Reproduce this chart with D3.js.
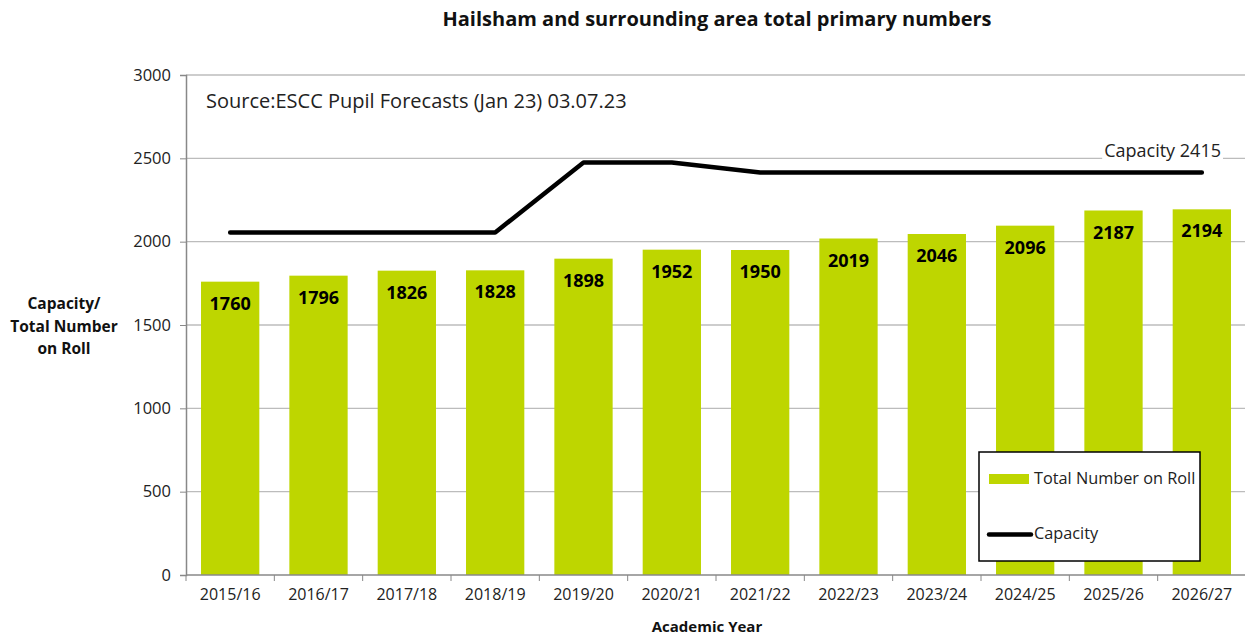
<!DOCTYPE html>
<html>
<head>
<meta charset="utf-8">
<script src="https://cdn.jsdelivr.net/npm/d3@7"></script>
<style>
  body { margin: 0; background: #fff; }
</style>
</head>
<body>
<svg></svg>
<script>
const years = ['2015/16', '2016/17', '2017/18', '2018/19', '2019/20', '2020/21',
               '2021/22', '2022/23', '2023/24', '2024/25', '2025/26', '2026/27'];
const totalOnRoll = [1760, 1796, 1826, 1828, 1898, 1952, 1950, 2019, 2046, 2096, 2187, 2194];
const capacity = [2055, 2055, 2055, 2055, 2475, 2475, 2415, 2415, 2415, 2415, 2415, 2415];
const yTicks = [0, 500, 1000, 1500, 2000, 2500, 3000];

const WIDTH = 1245;
const HEIGHT = 638;
const PLOT_LEFT = 186;
const PLOT_RIGHT = 1246;
const PLOT_TOP = 75;
const PLOT_BOTTOM = 575;

const BAR_COLOR = '#bed600';
const FONT = '"Open Sans", sans-serif';

const svg = d3.select('svg')
  .attr('width', WIDTH)
  .attr('height', HEIGHT)
  .attr('font-family', FONT);

const xScale = d3.scaleBand()
  .domain(years)
  .range([PLOT_LEFT, PLOT_RIGHT])
  .paddingInner(0.34)
  .paddingOuter(0.17);

const yScale = d3.scaleLinear()
  .domain([0, 3000])
  .range([PLOT_BOTTOM, PLOT_TOP]);

const step = xScale.step();
const bw = xScale.bandwidth();
const xCenter = d => xScale(d) + bw / 2;

// gridlines
svg.append('g')
  .selectAll('line')
  .data(yTicks.filter(t => t > 0))
  .enter()
  .append('line')
  .attr('x1', PLOT_LEFT)
  .attr('x2', PLOT_RIGHT)
  .attr('y1', d => yScale(d))
  .attr('y2', d => yScale(d))
  .attr('stroke', '#bcbcbc')
  .attr('stroke-width', 1.3);

// title
svg.append('text')
  .text('Hailsham and surrounding area total primary numbers')
  .attr('x', 717)
  .attr('y', 26)
  .attr('text-anchor', 'middle')
  .attr('font-size', '20px')
  .attr('font-weight', 'bold')
  .attr('fill', '#111');

// source note
svg.append('text')
  .text('Source:ESCC Pupil Forecasts (Jan 23) 03.07.23')
  .attr('x', 206)
  .attr('y', 108)
  .attr('font-size', '20px')
  .attr('fill', '#222');

// bars
svg.append('g')
  .selectAll('rect')
  .data(years)
  .enter()
  .append('rect')
  .attr('x', d => xScale(d))
  .attr('y', (d, i) => yScale(totalOnRoll[i]))
  .attr('width', bw)
  .attr('height', (d, i) => PLOT_BOTTOM - yScale(totalOnRoll[i]))
  .attr('fill', BAR_COLOR);

// bar labels
svg.append('g')
  .selectAll('text')
  .data(years)
  .enter()
  .append('text')
  .text((d, i) => totalOnRoll[i])
  .attr('x', d => xCenter(d))
  .attr('y', (d, i) => yScale(totalOnRoll[i]) + 28)
  .attr('text-anchor', 'middle')
  .attr('font-size', '18px')
  .attr('font-weight', 'bold')
  .attr('fill', '#000');

// capacity line
const line = d3.line()
  .x((d, i) => xCenter(years[i]))
  .y(d => yScale(d));

svg.append('path')
  .datum(capacity)
  .attr('d', line)
  .attr('fill', 'none')
  .attr('stroke', '#000')
  .attr('stroke-width', 4.5)
  .attr('stroke-linecap', 'round')
  .attr('stroke-linejoin', 'round');

// capacity annotation
const capLabel = svg.append('g');
const capText = capLabel.append('text')
  .text('Capacity 2415')
  .attr('x', 1221)
  .attr('y', yScale(capacity[capacity.length - 1]) - 16)
  .attr('text-anchor', 'end')
  .attr('font-size', '18px')
  .attr('fill', '#222');
const cb = capText.node().getBBox();
capLabel.insert('rect', 'text')
  .attr('x', cb.x - 2)
  .attr('y', cb.y)
  .attr('width', cb.width + 4)
  .attr('height', cb.height)
  .attr('fill', '#fff');

// axes
const yAxis = d3.axisLeft(yScale)
  .tickValues(yTicks)
  .tickFormat(d3.format('d'))
  .tickSize(6)
  .tickPadding(9);

svg.append('g')
  .attr('id', 'y-axis')
  .attr('transform', `translate(${PLOT_LEFT}, 0)`)
  .call(yAxis)
  .call(g => g.select('.domain').attr('stroke', '#888').attr('stroke-width', 1.5))
  .call(g => g.selectAll('.tick line').attr('stroke', '#888'))
  .call(g => g.selectAll('.tick text')
    .attr('font-family', FONT)
    .attr('font-size', '16.5px')
    .attr('fill', '#222'));

const xAxis = d3.axisBottom(xScale)
  .tickSize(0)
  .tickPadding(14);

svg.append('g')
  .attr('id', 'x-axis')
  .attr('transform', `translate(0, ${PLOT_BOTTOM})`)
  .call(xAxis)
  .call(g => g.select('.domain').remove())
  .call(g => g.selectAll('.tick text')
    .attr('font-family', FONT)
    .attr('font-size', '16px')
    .attr('fill', '#222'));

svg.append('line')
  .attr('x1', PLOT_LEFT)
  .attr('x2', PLOT_RIGHT)
  .attr('y1', PLOT_BOTTOM)
  .attr('y2', PLOT_BOTTOM)
  .attr('stroke', '#888')
  .attr('stroke-width', 1.5);

// x tick marks at category boundaries
svg.append('g')
  .selectAll('line')
  .data(years)
  .enter()
  .append('line')
  .attr('x1', d => xScale(d) - step * xScale.paddingInner() / 2)
  .attr('x2', d => xScale(d) - step * xScale.paddingInner() / 2)
  .attr('y1', PLOT_BOTTOM)
  .attr('y2', PLOT_BOTTOM + 6)
  .attr('stroke', '#888');

// axis titles
svg.append('text')
  .text('Academic Year')
  .attr('x', 707)
  .attr('y', 632)
  .attr('text-anchor', 'middle')
  .attr('font-size', '15px')
  .attr('font-weight', 'bold')
  .attr('fill', '#111');

const yTitle = svg.append('text')
  .attr('text-anchor', 'middle')
  .attr('font-size', '15.5px')
  .attr('font-weight', 'bold')
  .attr('fill', '#111');
['Capacity/', 'Total Number', 'on Roll'].forEach((t, i) => {
  yTitle.append('tspan')
    .text(t)
    .attr('x', 64)
    .attr('y', 309 + i * 22.5);
});

// legend
const legend = svg.append('g');
legend.append('rect')
  .attr('x', 979)
  .attr('y', 452)
  .attr('width', 221)
  .attr('height', 109)
  .attr('fill', '#fff')
  .attr('stroke', '#000')
  .attr('stroke-width', 1.5);
legend.append('rect')
  .attr('x', 989)
  .attr('y', 474)
  .attr('width', 40)
  .attr('height', 10)
  .attr('fill', BAR_COLOR);
legend.append('text')
  .text('Total Number on Roll')
  .attr('x', 1034)
  .attr('y', 484)
  .attr('font-size', '16.3px')
  .attr('fill', '#222');
legend.append('line')
  .attr('x1', 989)
  .attr('x2', 1031)
  .attr('y1', 534.5)
  .attr('y2', 534.5)
  .attr('stroke', '#000')
  .attr('stroke-width', 4.5)
  .attr('stroke-linecap', 'round');
legend.append('text')
  .text('Capacity')
  .attr('x', 1034)
  .attr('y', 539)
  .attr('font-size', '16.3px')
  .attr('fill', '#222');
</script>
</body>
</html>
